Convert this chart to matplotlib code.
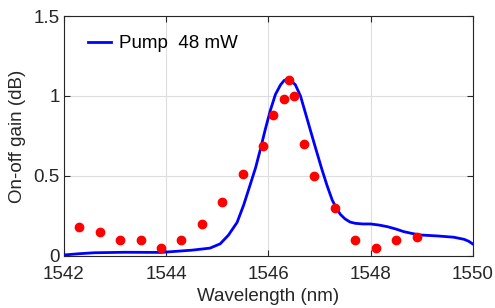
import numpy as np
import matplotlib; matplotlib.use("Agg")
import matplotlib.pyplot as plt

plt.rcParams['font.family'] = ['Liberation Sans', 'DejaVu Sans']

# measured on-off gain (red dots)
wl_meas = [1542.3, 1542.7, 1543.1, 1543.5, 1543.9, 1544.3, 1544.7, 1545.1, 1545.5, 1545.9,
           1546.1, 1546.3, 1546.4, 1546.5, 1546.7, 1546.9, 1547.3, 1547.7, 1548.1, 1548.5, 1548.9]
gain_meas = [0.18, 0.15, 0.10, 0.10, 0.05, 0.10, 0.20, 0.34, 0.51, 0.69,
             0.88, 0.98, 1.10, 1.00, 0.70, 0.50, 0.30, 0.10, 0.05, 0.10, 0.12]

# simulated curve (blue line)
wl_sim = [1542.0, 1542.3, 1542.6, 1543.2, 1543.9, 1544.5, 1544.67, 1544.86, 1545.06, 1545.22,
          1545.39, 1545.52, 1545.65, 1545.75, 1545.84, 1545.94, 1546.04, 1546.14, 1546.24, 1546.31,
          1546.37, 1546.43, 1546.53, 1546.63, 1546.73, 1546.82, 1546.92, 1547.05, 1547.15, 1547.25,
          1547.33, 1547.41, 1547.5, 1547.6, 1547.7, 1547.85, 1548.0, 1548.17, 1548.33, 1548.5,
          1548.65, 1548.82, 1548.98, 1549.31, 1549.63, 1549.83, 1549.92, 1550.0]
gain_sim = [0.006, 0.014, 0.02, 0.023, 0.022, 0.036, 0.042, 0.049, 0.076, 0.13,
            0.21, 0.32, 0.45, 0.55, 0.66, 0.79, 0.91, 1.01, 1.07, 1.097,
            1.104, 1.10, 1.07, 1.00, 0.89, 0.79, 0.68, 0.54, 0.44, 0.35,
            0.30, 0.26, 0.232, 0.212, 0.204, 0.20, 0.20, 0.193, 0.183, 0.168,
            0.152, 0.14, 0.131, 0.125, 0.117, 0.104, 0.092, 0.075]

fig = plt.figure(figsize=(4.95, 3.08), dpi=100)
ax = fig.add_axes([0.129, 0.169, 0.826, 0.779])
ax.plot(wl_sim, gain_sim, color="#0000ff", lw=2, label="Pump  48 mW", zorder=3,
        solid_joinstyle="round")
ax.plot(wl_meas, gain_meas, "o", color="#ff0000", ms=6, mec="#ff0000", zorder=4)
ax.set_xlim(1542, 1550); ax.set_ylim(0, 1.5)
ax.set_xticks([1542, 1544, 1546, 1548, 1550])
ax.set_yticks([0, 0.5, 1, 1.5]); ax.set_yticklabels(["0", "0.5", "1", "1.5"])
ax.grid(True, color="#dddddd", lw=0.8)
ax.tick_params(direction="in", top=True, right=True, length=4, labelsize=13.5, colors="#262626")
ax.tick_params(axis="x", pad=7)
ax.tick_params(axis="y", pad=3)
for s in ax.spines.values():
    s.set_color("#262626"); s.set_linewidth(0.8)
ax.set_xlabel("Wavelength (nm)", fontsize=13.5, color="#262626", labelpad=4)
ax.set_ylabel("On-off gain (dB)", fontsize=13.5, color="#262626", labelpad=5)
ax.legend(loc="upper left", frameon=False, fontsize=13.5, handlelength=1.2, handletextpad=0.45,
          bbox_to_anchor=(0.018, 0.99))
plt.savefig("out.png", dpi=100)
